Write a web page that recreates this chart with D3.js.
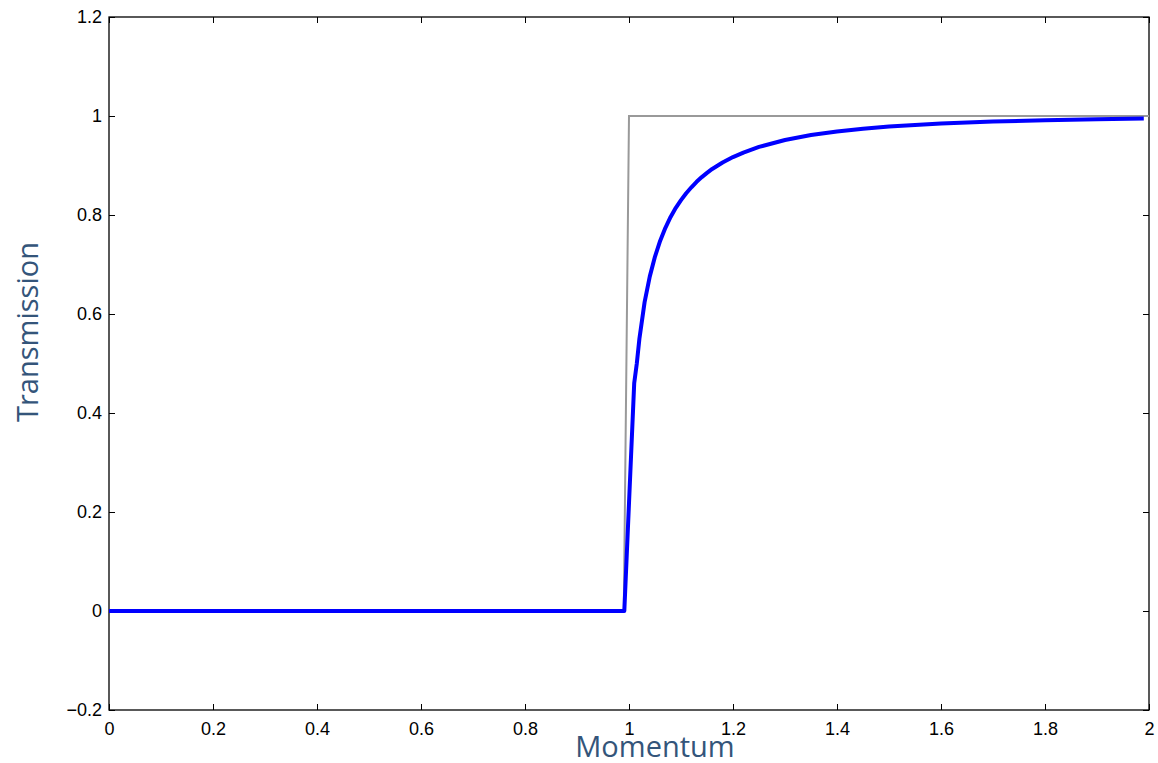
<!DOCTYPE html>
<html>
<head>
<meta charset="utf-8">
<script src="https://cdn.jsdelivr.net/npm/d3@7"></script>
<style>
  body { margin: 0; background: #fff; }
  svg { display: block; }
</style>
</head>
<body>
<svg id="chart" width="1158" height="763"></svg>
<script>
// values
let stepX = [0, 0.99, 1.0, 2.0];
let stepY = [0, 0, 1, 1];

let momentum = [0, 0.991, 1.01, 1.015, 1.02, 1.03, 1.04, 1.05, 1.06, 1.07, 1.08, 1.09, 1.10,
    1.11, 1.12, 1.13, 1.14, 1.15, 1.16, 1.18, 1.2, 1.22, 1.25, 1.3, 1.35, 1.4, 1.45, 1.5,
    1.6, 1.7, 1.8, 1.9, 1.99];
let transmission = [0, 0, 0.46, 0.5, 0.55, 0.624, 0.676, 0.716, 0.748, 0.774, 0.796, 0.8145, 0.83,
    0.844, 0.856, 0.867, 0.8766, 0.885, 0.893, 0.906, 0.917, 0.926, 0.9375, 0.9515, 0.9615, 0.9688, 0.9744, 0.9787,
    0.9848, 0.9888, 0.9915, 0.9934, 0.9947];

let xTicks = [0, 0.2, 0.4, 0.6, 0.8, 1, 1.2, 1.4, 1.6, 1.8, 2];
let yTicks = [-0.2, 0, 0.2, 0.4, 0.6, 0.8, 1, 1.2];

let svg = d3.select("#chart");
let plotLeft = 109, plotRight = 1149, plotTop = 17, plotBottom = 710;

let x = d3.scaleLinear().domain([0, 2]).range([plotLeft, plotRight]);
let y = d3.scaleLinear().domain([-0.2, 1.2]).range([plotBottom, plotTop]);

let fmt = d => (d < 0 ? "\u2212" : "") + String(Math.abs(d));
let tickFont = "'Liberation Sans', Arial, sans-serif";

function styleAxis(g) {
    g.select(".domain").remove();
    g.selectAll(".tick line").attr("stroke", "#000").attr("stroke-width", 1);
    g.selectAll(".tick text").attr("font-family", tickFont).attr("font-size", "18px").attr("fill", "#000");
}

// bottom / left axes with labels, ticks pointing inward
svg.append("g")
    .attr("transform", `translate(0,${plotBottom})`)
    .call(d3.axisBottom(x).tickValues(xTicks).tickFormat(fmt).tickSizeInner(-6).tickSizeOuter(0).tickPadding(12))
    .call(styleAxis);

svg.append("g")
    .attr("transform", `translate(${plotLeft},0)`)
    .call(d3.axisLeft(y).tickValues(yTicks).tickFormat(fmt).tickSizeInner(-6).tickSizeOuter(0).tickPadding(7))
    .call(styleAxis);

// top / right mirrored ticks, no labels
svg.append("g")
    .attr("transform", `translate(0,${plotTop})`)
    .call(d3.axisTop(x).tickValues(xTicks).tickFormat("").tickSizeInner(-6).tickSizeOuter(0))
    .call(styleAxis);

svg.append("g")
    .attr("transform", `translate(${plotRight},0)`)
    .call(d3.axisRight(y).tickValues(yTicks).tickFormat("").tickSizeInner(-6).tickSizeOuter(0))
    .call(styleAxis);

// frame
svg.append("rect")
    .attr("x", plotLeft).attr("y", plotTop)
    .attr("width", plotRight - plotLeft).attr("height", plotBottom - plotTop)
    .attr("fill", "none").attr("stroke", "#000").attr("stroke-width", 1.3);

let line = d3.line().x(d => x(d[0])).y(d => y(d[1]));

svg.append("path")
    .datum(stepX.map((v, i) => [v, stepY[i]]))
    .attr("d", line)
    .attr("fill", "none")
    .attr("stroke", "#999")
    .attr("stroke-width", 2);

svg.append("path")
    .datum(momentum.map((v, i) => [v, transmission[i]]))
    .attr("d", line)
    .attr("fill", "none")
    .attr("stroke", "#0000ff")
    .attr("stroke-width", 4)
    .attr("stroke-linejoin", "round");

// axis titles
let labelColor = "#34557a";
svg.append("text")
    .attr("x", 655).attr("y", 757)
    .attr("text-anchor", "middle")
    .attr("font-family", "'Open Sans', 'Noto Sans', sans-serif")
    .attr("font-size", "29px")
    .attr("fill", labelColor)
    .text("Momentum");

svg.append("text")
    .attr("transform", "translate(38,332) rotate(-90)")
    .attr("text-anchor", "middle")
    .attr("font-family", "'Open Sans', 'Noto Sans', sans-serif")
    .attr("font-size", "29px")
    .attr("fill", labelColor)
    .text("Transmission");
</script>
</body>
</html>
